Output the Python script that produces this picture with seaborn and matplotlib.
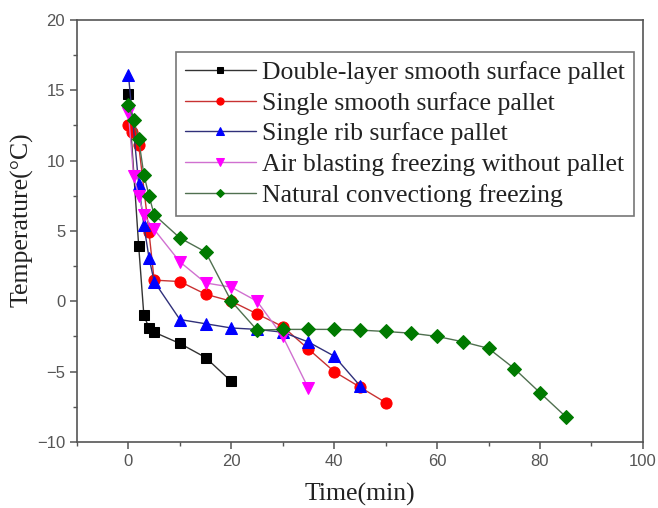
import matplotlib
matplotlib.use("Agg")
import matplotlib.pyplot as plt
import seaborn as sns
from matplotlib.ticker import MultipleLocator

# readings: time in min, temperature in degC
t_double = [0, 2, 3, 4, 5, 10, 15, 20]
T_double = [14.7, 3.9, -1.0, -1.9, -2.2, -3.0, -4.0, -5.7]

t_smooth = [0, 0.7, 2, 4, 5, 10, 15, 20, 25, 30, 35, 40, 45, 50]
T_smooth = [12.5, 12.0, 11.1, 4.9, 1.5, 1.4, 0.5, 0.0, -0.9, -1.8, -3.4, -5.0, -6.1, -7.2]

t_rib = [0, 2, 3, 4, 5, 10, 15, 20, 25, 30, 35, 40, 45]
T_rib = [16.1, 8.3, 5.4, 3.1, 1.4, -1.3, -1.6, -1.9, -2.0, -2.2, -2.9, -3.9, -6.0]

t_air = [0, 1, 2, 3, 5, 10, 15, 20, 25, 30, 35]
T_air = [13.4, 8.9, 7.5, 6.1, 5.1, 2.8, 1.3, 1.0, 0.0, -2.5, -6.2]

t_nat = [0, 1, 2, 3, 4, 5, 10, 15, 20, 25, 30, 35, 40, 45, 50, 55, 60, 65, 70, 75, 80, 85]
T_nat = [13.95, 12.9, 11.5, 9.0, 7.5, 6.15, 4.5, 3.5, 0.0, -2.05, -2.0, -2.0, -2.0, -2.05,
         -2.15, -2.27, -2.5, -2.88, -3.35, -4.78, -6.5, -8.2]

labels = ["Double-layer smooth surface pallet", "Single smooth surface pallet",
          "Single rib surface pallet", "Air blasting freezing without pallet",
          "Natural convectiong freezing"]

series = [(t_double, T_double), (t_smooth, T_smooth), (t_rib, T_rib), (t_air, T_air), (t_nat, T_nat)]
line_colors = ["#333333", "#c83232", "#30307a", "#d070d0", "#507050"]
marker_colors = ["#000000", "#ff0000", "#0000ff", "#ff00ff", "#007a00"]
markers = ["s", "o", "^", "v", "D"]
msizes = [7, 8, 8, 8, 7]

sns.set_style("ticks")
plt.rcParams['font.family'] = ['Liberation Serif', 'DejaVu Serif']

fig, ax = plt.subplots(figsize=(6.58, 5.08), dpi=100)
fig.subplots_adjust(left=0.117, right=0.977, top=0.961, bottom=0.130)

for (t, T), lab, lc, mc, mk, ms in zip(series, labels, line_colors, marker_colors, markers, msizes):
    sns.lineplot(x=t, y=T, ax=ax, sort=False, estimator=None, color=lc, lw=1.0,
                 marker=mk, markersize=ms, markerfacecolor=mc, markeredgecolor=mc,
                 label=lab)

ax.set_xlim(-10, 100)
ax.set_ylim(-10, 20)
ax.xaxis.set_major_locator(MultipleLocator(20))
ax.xaxis.set_minor_locator(MultipleLocator(10))
ax.yaxis.set_major_locator(MultipleLocator(5))
ax.yaxis.set_minor_locator(MultipleLocator(2.5))

for s in ax.spines.values():
    s.set_visible(True)
    s.set_color("#555555")
    s.set_linewidth(1.2)
ax.tick_params(which="major", direction="out", length=5, width=1.1, color="#555555",
               labelsize=12, labelcolor="#555555")
ax.tick_params(which="minor", direction="out", length=3, width=1.0, color="#555555")
for lbl in ax.get_xticklabels() + ax.get_yticklabels():
    lbl.set_family("Liberation Sans")

ax.set_xlabel("Time(min)", fontsize=18.5, color="#222222", labelpad=10)
ax.set_ylabel("Temperature(\u00b0C)", fontsize=18.5, color="#222222")
ax.yaxis.set_label_coords(-0.076, 0.526)

leg = ax.legend(loc="upper left", bbox_to_anchor=(0.175, 0.924), borderaxespad=0,
                fontsize=18.5, frameon=True, fancybox=False, edgecolor="#555555",
                handlelength=2.75, handletextpad=0.25, labelspacing=0.3, borderpad=0.35,
                markerscale=0.65)
leg.get_frame().set_linewidth(1.2)
for txt in leg.get_texts():
    txt.set_color("#222222")

fig.savefig("out.png", dpi=100)
